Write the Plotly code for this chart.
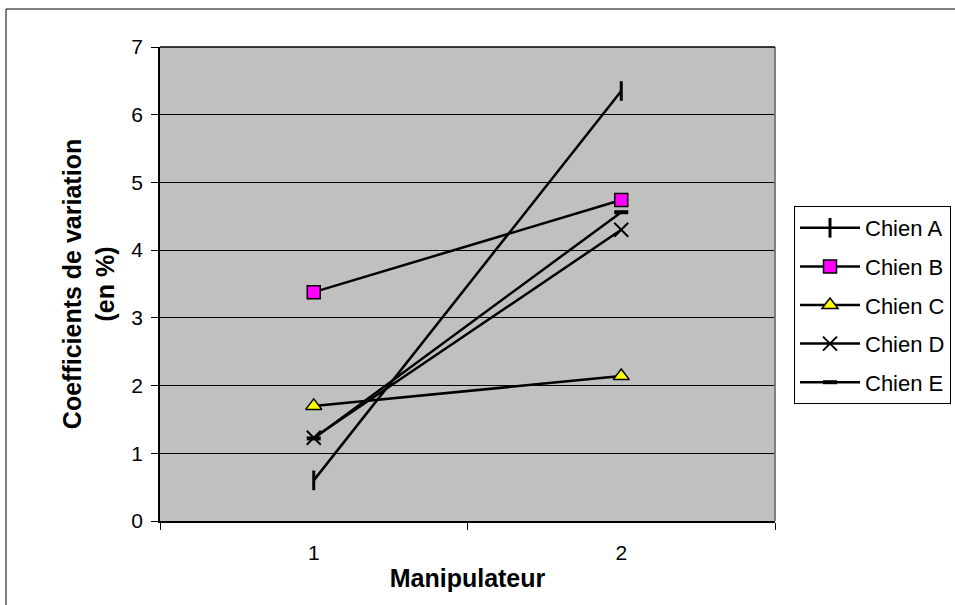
import plotly.graph_objects as go

categories = ["1", "2"]
series_names = ["Chien A", "Chien B", "Chien C", "Chien D", "Chien E"]
chien_a = [0.6, 6.35]
chien_b = [3.38, 4.74]
chien_c = [1.70, 2.14]
chien_d = [1.23, 4.30]
chien_e = [1.22, 4.56]
y_ticks = [0, 1, 2, 3, 4, 5, 6, 7]

values = [chien_a, chien_b, chien_c, chien_d, chien_e]
marker_styles = [
    dict(symbol="line-ns", size=14, color="black", line=dict(color="black", width=3)),
    dict(symbol="square", size=13, color="#FF00FF", line=dict(color="black", width=1.5)),
    dict(symbol="triangle-up", size=14, color="#FFFF00", line=dict(color="black", width=1.5)),
    dict(symbol="x-thin", size=14, color="black", line=dict(color="black", width=2)),
    dict(symbol="line-ew", size=10, color="black", line=dict(color="black", width=4)),
]

fig = go.Figure()
for name, vals, mk in zip(series_names, values, marker_styles):
    fig.add_trace(go.Scatter(
        x=categories, y=vals, name=name, mode="lines+markers",
        line=dict(color="black", width=2.5), marker=mk,
        legendgroup=name,
    ))

L, R, T, B = 160, 180, 47, 84
W, H = 955, 605
pw, ph = W - L - R, H - T - B

def px(x):
    return (x - L) / pw

def py(y):
    return (H - B - y) / ph

fig.update_layout(
    width=W, height=H,
    margin=dict(l=L, r=R, t=T, b=B, autoexpand=False),
    paper_bgcolor="white",
    plot_bgcolor="#C0C0C0",
    font=dict(family="Liberation Sans, Arial, sans-serif", color="black", size=21),
    showlegend=True,
    legend=dict(
        x=px(794), y=py(206), xanchor="left", yanchor="top",
        bgcolor="white", bordercolor="black", borderwidth=1,
        font=dict(size=22), tracegroupgap=7, traceorder="grouped",
        itemwidth=60,
    ),
    xaxis=dict(
        type="category", categoryorder="array", categoryarray=categories,
        range=[-0.5, 1.5], tickson="boundaries", ticks="outside", ticklen=7,
        tickcolor="black", showline=True, linecolor="black", linewidth=2,
        showgrid=False, zeroline=False, ticklabelstandoff=12,
        title=dict(text="<b>Manipulateur</b>", font=dict(size=25), standoff=6),
    ),
    yaxis=dict(
        range=[0, 7], tickvals=y_ticks, ticks="outside", ticklen=7,
        tickcolor="black", showline=True, linecolor="black", linewidth=1.5,
        showgrid=True, gridcolor="black", gridwidth=1, zeroline=False,
        ticklabelstandoff=4,
        title=dict(text="<b>Coefficients de variation<br>(en %)</b>", font=dict(size=25), standoff=10),
    ),
    shapes=[
        dict(type="line", xref="paper", yref="paper", x0=1, x1=1, y0=0, y1=1,
             line=dict(color="#808080", width=2)),
        dict(type="line", xref="paper", yref="paper", x0=0, x1=1, y0=1, y1=1,
             line=dict(color="black", width=1.5)),
        dict(type="rect", xref="paper", yref="paper", x0=px(6), x1=px(1000),
             y0=py(640), y1=py(9), line=dict(color="black", width=1), layer="below"),
    ],
)

fig.write_html("out.html")
